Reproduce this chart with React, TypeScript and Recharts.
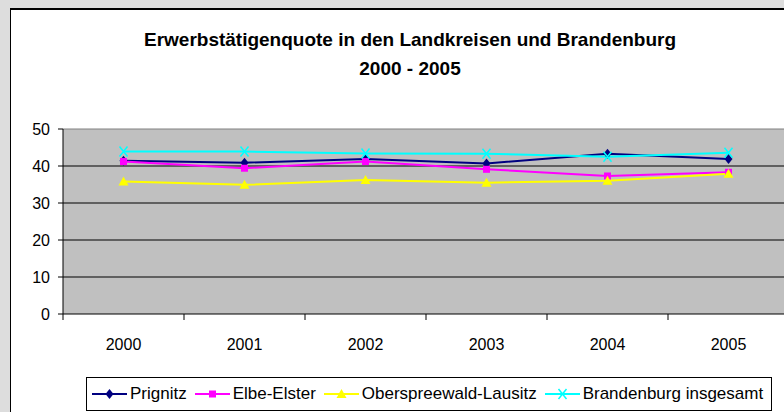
import React from "react";
import {
  LineChart,
  Line,
  XAxis,
  YAxis,
  CartesianGrid,
  ReferenceLine,
} from "recharts";

const years = ["2000", "2001", "2002", "2003", "2004", "2005"];
const prignitz = [41.4, 40.9, 41.9, 40.7, 43.3, 41.9];
const elbeElster = [41.2, 39.4, 41.2, 39.1, 37.3, 38.3];
const oberspreewald = [35.8, 34.9, 36.2, 35.5, 36.0, 37.9];
const brandenburg = [43.9, 43.9, 43.4, 43.3, 42.5, 43.6];
const yTicks = [0, 10, 20, 30, 40, 50];

const titleLines = [
  "Erwerbstätigenquote in den Landkreisen und Brandenburg",
  "2000 - 2005",
];

type Shape = "diamond" | "square" | "triangle" | "cross";

const series: { key: string; name: string; color: string; shape: Shape; values: number[] }[] = [
  { key: "prignitz", name: "Prignitz", color: "#000080", shape: "diamond", values: prignitz },
  { key: "elbe", name: "Elbe-Elster", color: "#ff00ff", shape: "square", values: elbeElster },
  { key: "ober", name: "Oberspreewald-Lausitz", color: "#ffff00", shape: "triangle", values: oberspreewald },
  { key: "brb", name: "Brandenburg insgesamt", color: "#00ffff", shape: "cross", values: brandenburg },
];

const data = years.map((year, i) => {
  const row: Record<string, string | number> = { year };
  series.forEach((s) => {
    row[s.key] = s.values[i];
  });
  return row;
});

const FONT = '"Liberation Sans", Arial, sans-serif';
// half of one category slot (plot is 726px wide, 6 slots)
const HALF_BAND = 60.5;

function Marker({ shape, color, cx, cy }: { shape: Shape; color: string; cx: number; cy: number }) {
  if (shape === "diamond") {
    return <path d={`M${cx},${cy - 5} L${cx + 4},${cy} L${cx},${cy + 5} L${cx - 4},${cy} Z`} fill={color} />;
  }
  if (shape === "square") {
    return <rect x={cx - 3.5} y={cy - 3.5} width={7} height={7} fill={color} />;
  }
  if (shape === "triangle") {
    return <path d={`M${cx},${cy - 5} L${cx + 5},${cy + 4} L${cx - 5},${cy + 4} Z`} fill={color} />;
  }
  return (
    <path
      d={`M${cx - 4},${cy - 5} L${cx + 4},${cy + 5} M${cx + 4},${cy - 5} L${cx - 4},${cy + 5}`}
      stroke={color}
      strokeWidth={1.5}
      fill="none"
    />
  );
}

function YearTick(props: any) {
  const { x, y, payload } = props;
  return (
    <g>
      <line x1={x - HALF_BAND} y1={y} x2={x - HALF_BAND} y2={y + 6} stroke="#000" />
      <text x={x} y={y + 36} textAnchor="middle" fontSize={16} fontFamily={FONT} fill="#000">
        {payload.value}
      </text>
    </g>
  );
}

export default function App() {
  return (
    <div
      style={{
        position: "absolute",
        left: 0,
        top: 0,
        width: 784,
        height: 412,
        overflow: "hidden",
        background: "#dddddd",
        fontFamily: FONT,
      }}
    >
      <div
        style={{
          position: "absolute",
          left: 10,
          top: 8,
          width: 820,
          height: 440,
          background: "#fff",
          border: "1px solid #000",
          borderTopWidth: 2,
        }}
      />

      {titleLines.map((line, i) => (
        <div
          key={line}
          style={{
            position: "absolute",
            left: 10,
            width: 800,
            top: 30 + i * 29,
            textAlign: "center",
            fontSize: 19,
            lineHeight: "19px",
            fontWeight: "bold",
            color: "#000",
            whiteSpace: "nowrap",
          }}
        >
          {line}
        </div>
      ))}

      <div style={{ position: "absolute", left: 0, top: 0 }}>
        <LineChart width={800} height={412} data={data} margin={{ top: 129, right: 11, bottom: 68, left: 0 }}>
          <CartesianGrid
            vertical={false}
            horizontalValues={[10, 20, 30, 40]}
            stroke="#000"
            fill="#c0c0c0"
            fillOpacity={1}
          />
          <ReferenceLine y={50} stroke="#808080" />
          <XAxis
            dataKey="year"
            height={30}
            padding={{ left: HALF_BAND, right: HALF_BAND }}
            tickLine={false}
            tickSize={0}
            tickMargin={0}
            axisLine={{ stroke: "#000" }}
            tick={<YearTick />}
            interval={0}
          />
          <YAxis
            width={63}
            domain={[0, 50]}
            ticks={yTicks}
            tickSize={5}
            tickMargin={8}
            axisLine={{ stroke: "#000" }}
            tickLine={{ stroke: "#000" }}
            tick={{ fill: "#000", fontSize: 16, fontFamily: FONT }}
          />
          {series.map((s) => (
            <Line
              key={s.key}
              dataKey={s.key}
              name={s.name}
              stroke={s.color}
              strokeWidth={2}
              isAnimationActive={false}
              dot={(p: any) => <Marker key={`${s.key}-${p.index}`} shape={s.shape} color={s.color} cx={p.cx} cy={p.cy} />}
              activeDot={false}
            />
          ))}
        </LineChart>
      </div>

      <div
        style={{
          position: "absolute",
          left: 86,
          top: 377,
          width: 679,
          height: 32,
          border: "1px solid #000",
          background: "#fff",
          display: "flex",
          alignItems: "center",
          paddingLeft: 5,
          boxSizing: "content-box",
          fontSize: 17,
          color: "#000",
          whiteSpace: "nowrap",
        }}
      >
        {series.map((s) => (
          <div key={s.key} style={{ display: "flex", alignItems: "center", marginRight: 8 }}>
            <svg width={35} height={14}>
              <line x1={0} y1={7} x2={35} y2={7} stroke={s.color} strokeWidth={2} />
              <Marker shape={s.shape} color={s.color} cx={17.5} cy={7} />
            </svg>
            <span style={{ marginLeft: 3 }}>{s.name}</span>
          </div>
        ))}
      </div>
    </div>
  );
}
